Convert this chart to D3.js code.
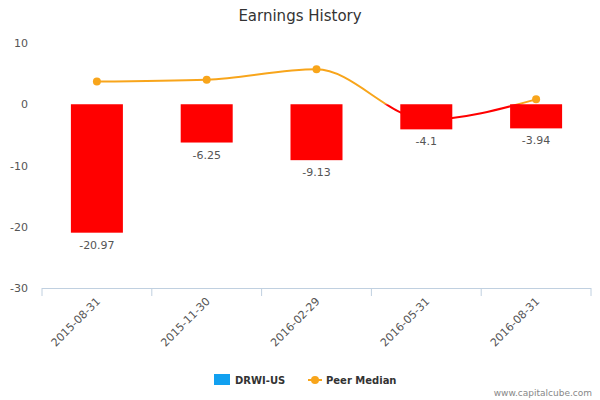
<!DOCTYPE html>
<html><head><meta charset="utf-8">
<script src="https://cdn.jsdelivr.net/npm/d3@7"></script>
<style>body{margin:0;font-family:"DejaVu Sans",sans-serif;background:#fff}</style>
</head><body><svg id="c" width="600" height="400"></svg>
<script>
const dates = ["2015-08-31", "2015-11-30", "2016-02-29", "2016-05-31", "2016-08-31"];
const drwi = [-20.97, -6.25, -9.13, -4.1, -3.94];
const drwiLabels = ["-20.97", "-6.25", "-9.13", "-4.1", "-3.94"];
const peer = [3.7, 4.0, 5.7, -2.5, 0.8];
const yTicks = [10, 0, -10, -20, -30];

const svg = d3.select("#c");
const x = d3.scaleBand().domain(dates).range([42, 591]);
const y = d3.scaleLinear().domain([-30, 10]).range([288, 43]);

svg.append("text").attr("x", 300).attr("y", 21).attr("text-anchor", "middle")
  .attr("font-size", 15).attr("fill", "#333").text("Earnings History");

// y axis labels
svg.selectAll(".yl").data(yTicks).enter().append("text")
  .attr("x", 28).attr("y", d => y(d) + 4).attr("text-anchor", "end")
  .attr("font-size", 11).attr("fill", "#555").text(d => d);

// x axis
svg.append("line").attr("x1", 42).attr("x2", 591).attr("y1", 288.5).attr("y2", 288.5)
  .attr("stroke", "#c0d0e0");
svg.selectAll(".xt").data(d3.range(dates.length + 1)).enter().append("line")
  .attr("x1", i => 42 + i * x.step()).attr("x2", i => 42 + i * x.step())
  .attr("y1", 288).attr("y2", 296).attr("stroke", "#c0d0e0");
svg.selectAll(".xl").data(dates).enter().append("text")
  .attr("transform", d => `translate(${x(d) + x.bandwidth() / 2 + 4},${302}) rotate(-45)`)
  .attr("text-anchor", "end").attr("font-size", 11).attr("fill", "#555").text(d => d);

// peer median line, orange above zero, red below
const cx = d => x(d) + x.bandwidth() / 2;
const line = d3.line().x((d, i) => cx(dates[i])).y(d => y(d)).curve(d3.curveMonotoneX);
const defs = svg.append("defs");
defs.append("clipPath").attr("id", "above").append("rect")
  .attr("x", 0).attr("y", 0).attr("width", 600).attr("height", y(0));
defs.append("clipPath").attr("id", "below").append("rect")
  .attr("x", 0).attr("y", y(0)).attr("width", 600).attr("height", 400);
svg.append("path").attr("d", line(peer)).attr("fill", "none").attr("stroke", "#f8a51b")
  .attr("stroke-width", 2).attr("clip-path", "url(#above)");
svg.append("path").attr("d", line(peer)).attr("fill", "none").attr("stroke", "#ff0000")
  .attr("stroke-width", 2).attr("clip-path", "url(#below)");
svg.selectAll(".pd").data(peer).enter().append("circle")
  .attr("cx", (d, i) => cx(dates[i])).attr("cy", d => y(d)).attr("r", 4)
  .attr("fill", "#f8a51b");

// bars
const bw = 52;
svg.selectAll(".bar").data(drwi).enter().append("rect")
  .attr("x", (d, i) => cx(dates[i]) - bw / 2).attr("width", bw)
  .attr("y", y(0)).attr("height", d => y(d) - y(0)).attr("fill", "#ff0000");
svg.selectAll(".bl").data(drwi).enter().append("text")
  .attr("x", (d, i) => cx(dates[i])).attr("y", d => y(d) + 16)
  .attr("text-anchor", "middle").attr("font-size", 11).attr("fill", "#555")
  .text((d, i) => drwiLabels[i]);

// legend
svg.append("rect").attr("x", 214).attr("y", 374).attr("width", 16).attr("height", 11).attr("fill", "#11a0f0");
svg.append("text").attr("x", 235).attr("y", 384).attr("font-size", 10).attr("font-weight", "bold")
  .attr("fill", "#333").text("DRWI-US");
svg.append("line").attr("x1", 308).attr("x2", 322).attr("y1", 380).attr("y2", 380)
  .attr("stroke", "#f8a51b").attr("stroke-width", 2);
svg.append("circle").attr("cx", 315).attr("cy", 380).attr("r", 4).attr("fill", "#f8a51b");
svg.append("text").attr("x", 326).attr("y", 384).attr("font-size", 10).attr("font-weight", "bold")
  .attr("fill", "#333").text("Peer Median");

svg.append("text").attr("x", 592).attr("y", 396).attr("text-anchor", "end")
  .attr("font-size", 9).attr("fill", "#888").text("www.capitalcube.com");
</script></body></html>
